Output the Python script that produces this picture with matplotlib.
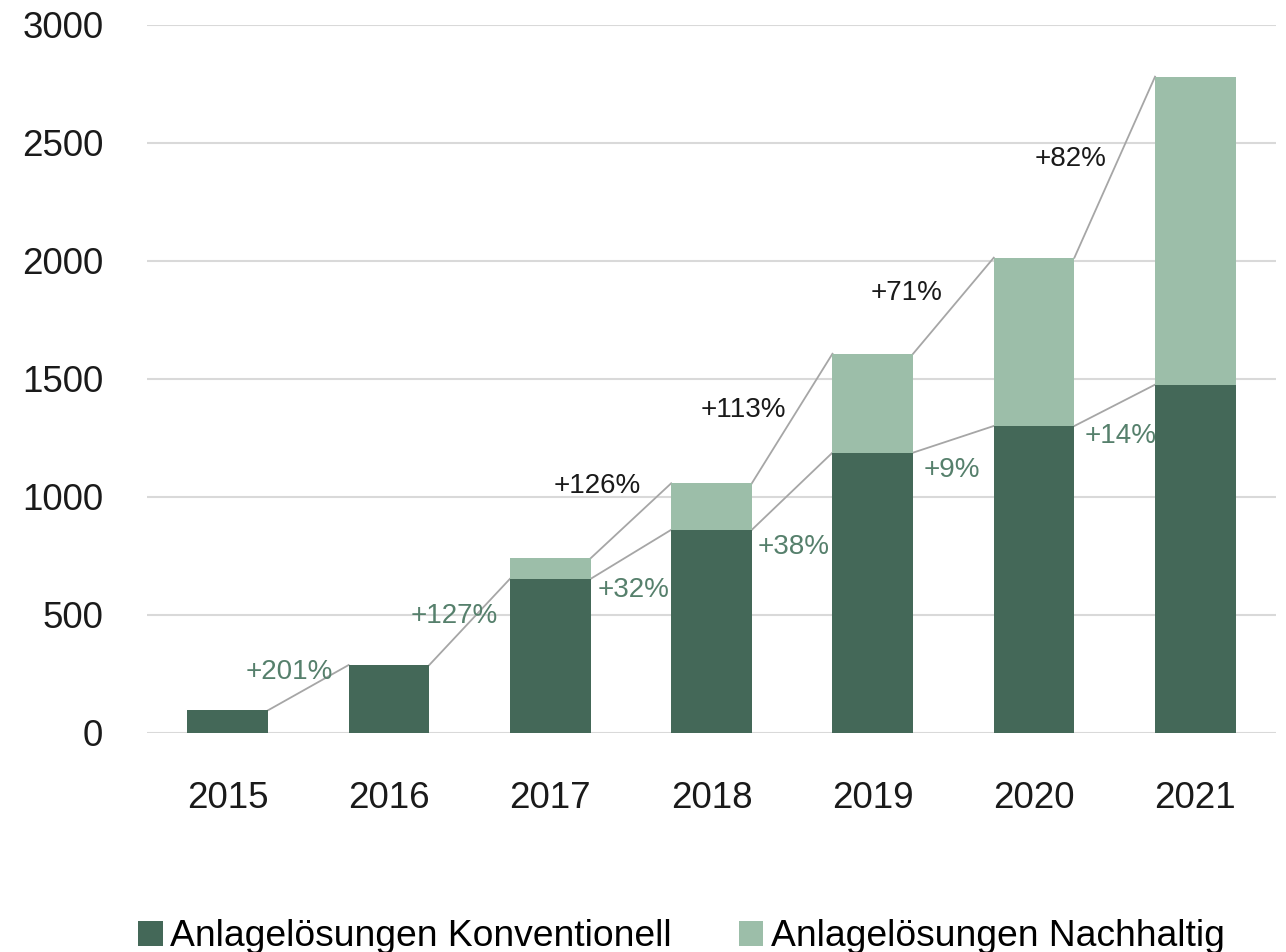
import matplotlib
matplotlib.use("Agg")
import matplotlib.pyplot as plt
import numpy as np

plt.rcParams["font.family"] = ["Liberation Sans", "DejaVu Sans"]

years = ["2015", "2016", "2017", "2018", "2019", "2020", "2021"]
konventionell = [96, 288, 653, 861, 1188, 1301, 1476]
nachhaltig = [0, 0, 87, 197, 419, 713, 1305]

# growth labels per segment (year i -> i+1)
growth_konv = ["+201%", "+127%", "+32%", "+38%", "+9%", "+14%"]
growth_nach = ["", "", "+126%", "+113%", "+71%", "+82%"]

DARK = "#446858"
LIGHT = "#9cbea9"
LINE = "#a6a6a6"
GRID = "#d9d9d9"
GREEN_TXT = "#56806c"

# label offsets in points from segment midpoints
konv_offsets = [(-14, 11), (-11, 4), (2, -26), (1, -40), (-1, -22), (4, -22)]
nach_offsets = [None, None, (-24, 25), (-35, 6), (-34, 9), (-32, 6)]

fig = plt.figure(figsize=(12.86, 9.52), dpi=100)
ax = fig.add_axes([147 / 1286, 1 - 733 / 952, 1129 / 1286, 708 / 952])

x = np.arange(len(years))
konv = np.array(konventionell)
nach = np.array(nachhaltig)
total = konv + nach
w = 0.5

ax.bar(x, konv, width=w, color=DARK, zorder=3, label="Anlagelösungen Konventionell")
ax.bar(x, nach, width=w, bottom=konv, color=LIGHT, zorder=3, label="Anlagelösungen Nachhaltig")

# connectors between bar tops, drawn from right edge to next left edge
for i in range(len(years) - 1):
    ax.plot([x[i] + w / 2, x[i + 1] - w / 2], [konv[i], konv[i + 1]],
            color=LINE, lw=1.3, zorder=2)
    mx, my = x[i] + 0.5, (konv[i] + konv[i + 1]) / 2
    ax.annotate(growth_konv[i], (mx, my), xytext=konv_offsets[i], textcoords="offset points",
                ha="center", va="center", fontsize=20, color=GREEN_TXT, zorder=4)
    if nach[i] > 0:
        ax.plot([x[i] + w / 2, x[i + 1] - w / 2], [total[i], total[i + 1]],
                color=LINE, lw=1.3, zorder=2)
        mx, my = x[i] + 0.5, (total[i] + total[i + 1]) / 2
        ax.annotate(growth_nach[i], (mx, my), xytext=nach_offsets[i], textcoords="offset points",
                    ha="center", va="center", fontsize=20, color="#1a1a1a", zorder=4)

ax.set_xlim(-0.5, len(years) - 0.5)
ax.set_ylim(0, 3000)
ax.set_yticks(range(0, 3001, 500))
ax.set_xticks(x)
ax.set_xticklabels(years)
ax.grid(axis="y", color=GRID, lw=1.5, zorder=0)
for s in ax.spines.values():
    s.set_visible(False)
ax.tick_params(axis="both", length=0, labelsize=26.5, labelcolor="#1a1a1a")
ax.tick_params(axis="y", pad=31.5)
ax.tick_params(axis="x", pad=34.5)

fig.legend(loc="center", bbox_to_anchor=(681.5 / 1286, 1 - 937 / 952), ncol=2, frameon=False,
           fontsize=26.8, handlelength=0.66, handleheight=0.66, handletextpad=0.2,
           columnspacing=1.8, borderpad=0, borderaxespad=0)

fig.savefig("out.png", dpi=100)
